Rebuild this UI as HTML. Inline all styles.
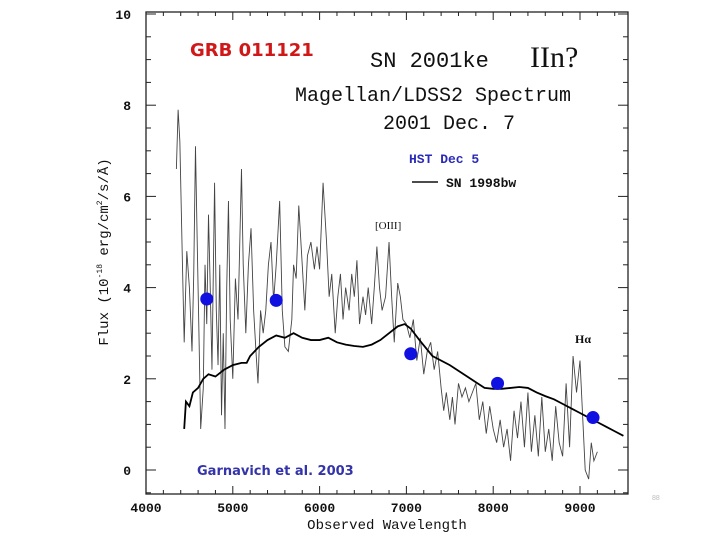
<!DOCTYPE html>
<html><head><meta charset="utf-8"><style>
body{margin:0;background:#fff;width:720px;height:540px;overflow:hidden}
svg{display:block}
.mono{font-family:"Liberation Mono",monospace}
</style></head><body>
<svg id="chart" width="720" height="540" xmlns="http://www.w3.org/2000/svg">
<rect x="0" y="0" width="720" height="540" fill="#fff"/>
<g id="axes"></g>
<g id="series"></g>
<text x="190" y="56" font-family="'Comic Sans MS','DejaVu Sans',sans-serif" font-weight="bold" font-size="18" fill="#d01818">GRB 011121</text>
<text x="370" y="67" class="mono" font-size="22" fill="#111">SN 2001ke</text>
<text x="530" y="67" font-family="'Liberation Serif',serif" font-size="30" fill="#111">IIn?</text>
<text x="433" y="101" text-anchor="middle" class="mono" font-size="20" fill="#111">Magellan/LDSS2 Spectrum</text>
<text x="449" y="129" text-anchor="middle" class="mono" font-size="20" fill="#111">2001 Dec. 7</text>
<text x="409" y="163" class="mono" font-weight="bold" font-size="13" fill="#2a2ab8">HST Dec 5</text>
<line x1="412" y1="182" x2="438" y2="182" stroke="#111" stroke-width="1.5"/>
<text x="446" y="187" class="mono" font-weight="bold" font-size="13" fill="#111">SN 1998bw</text>
<text x="375" y="229" font-family="'Liberation Serif',serif" font-size="11" fill="#111">[OIII]</text>
<text x="575" y="343" font-family="'Liberation Serif',serif" font-weight="bold" font-size="12" fill="#111">Hα</text>
<text x="197" y="475" font-family="'DejaVu Sans',sans-serif" font-weight="bold" font-size="13" fill="#3333aa">Garnavich et al. 2003</text>
<text x="387" y="529" text-anchor="middle" class="mono" font-size="14" fill="#111">Observed Wavelength</text>
<text transform="translate(108,252) rotate(-90)" text-anchor="middle" class="mono" font-size="14" fill="#111">Flux (10<tspan font-size="8" dy="-6">-18</tspan><tspan dy="6"> erg/cm</tspan><tspan font-size="8" dy="-6">2</tspan><tspan dy="6">/s/Å)</tspan></text>
<text x="652" y="500" font-family="'Liberation Sans',sans-serif" font-size="7" fill="#bbb">88</text>
</svg>
<script>
const xTicks=[4000,5000,6000,7000,8000,9000];
const yTicks=[0,2,4,6,8,10];
const obsWave=[4350,4370,4390,4420,4440,4470,4500,4530,4550,4570,4590,4610,4630,4660,4680,4700,4720,4740,4760,4790,4810,4830,4850,4870,4890,4910,4930,4950,4970,5000,5030,5060,5100,5120,5150,5180,5210,5240,5270,5290,5320,5350,5380,5410,5440,5470,5500,5540,5570,5600,5640,5680,5700,5730,5760,5800,5830,5860,5900,5940,5970,6000,6040,6080,6110,6140,6180,6210,6240,6270,6300,6340,6370,6400,6430,6460,6500,6530,6560,6600,6630,6660,6690,6720,6760,6800,6830,6860,6900,6930,6960,7000,7040,7080,7120,7160,7200,7240,7280,7320,7360,7400,7430,7460,7500,7530,7560,7600,7640,7680,7720,7760,7800,7840,7880,7920,7960,8000,8040,8080,8120,8160,8200,8240,8280,8320,8360,8400,8440,8480,8520,8560,8600,8640,8680,8720,8760,8800,8840,8880,8920,8960,9000,9030,9060,9100,9130,9160,9200];
const obsFlux=[6.6,7.9,7.2,4.5,2.8,4.8,4.0,2.6,4.3,7.1,5.0,3.0,0.9,1.8,4.5,3.2,5.6,4.0,2.2,6.3,3.5,2.3,4.5,1.2,3.0,0.9,4.0,5.9,3.3,2.0,4.2,3.3,6.6,4.5,3.0,4.5,5.3,3.5,2.5,1.9,3.5,3.0,3.5,4.5,5.0,3.7,4.5,5.9,3.5,2.7,2.6,3.3,4.5,4.2,5.8,4.5,3.5,4.7,5.0,4.4,4.9,4.4,6.3,5.0,3.8,4.3,3.0,3.8,4.3,3.3,4.0,3.5,4.3,3.8,4.6,3.2,3.8,3.4,4.0,3.2,4.0,4.9,4.0,3.5,3.8,5.0,3.8,2.8,4.1,3.8,3.3,3.2,2.9,3.3,2.4,2.9,2.1,2.6,2.8,2.2,2.6,1.8,1.3,1.7,1.1,1.6,1.0,1.9,1.6,1.8,1.5,1.7,1.9,1.1,1.5,0.8,1.4,0.9,0.6,1.1,0.5,0.9,0.2,1.3,0.7,1.5,0.5,1.7,0.4,1.2,0.3,1.6,0.4,0.9,0.2,1.4,0.6,0.3,1.9,0.5,2.5,1.7,2.4,1.2,0.0,-0.2,0.6,0.2,0.4];
const tmplWave=[4440,4460,4500,4540,4600,4660,4720,4800,4900,5000,5100,5160,5200,5300,5400,5500,5600,5700,5800,5900,6000,6100,6200,6300,6400,6500,6600,6700,6800,6900,6980,7050,7150,7300,7500,7700,7900,8000,8100,8200,8300,8400,8500,8600,8700,8800,8900,9000,9100,9200,9300,9400,9500];
const tmplFlux=[0.9,1.5,1.4,1.7,1.8,2.0,2.1,2.05,2.2,2.3,2.35,2.35,2.5,2.7,2.85,2.95,2.9,3.0,2.9,2.85,2.85,2.9,2.8,2.75,2.72,2.7,2.75,2.85,3.0,3.15,3.2,3.1,2.85,2.5,2.3,2.05,1.8,1.78,1.78,1.8,1.82,1.8,1.7,1.62,1.55,1.45,1.35,1.25,1.15,1.05,0.95,0.85,0.75];
const hstWave=[4700,5500,7050,8050,9150];
const hstFlux=[3.75,3.72,2.55,1.9,1.15];

const NS='http://www.w3.org/2000/svg';
const L=146,R=628,T=12,B=494;
const xs=w=>L+(w-4000)*0.0868;
const ys=f=>470-f*45.6;
function mk(tag,attrs,parent){const e=document.createElementNS(NS,tag);for(const k in attrs)e.setAttribute(k,attrs[k]);parent.appendChild(e);return e;}
const ax=document.getElementById('axes'), sr=document.getElementById('series');
const frame=mk('rect',{x:L,y:T,width:R-L,height:B-T,fill:'none',stroke:'#222','stroke-width':1.3},ax);


for(let w=4000;w<=9500;w+=200){const x=xs(w);const major=(w%1000===0);const len=major?8:4;
 mk('line',{x1:x,y1:B,x2:x,y2:B-len,stroke:'#222'},ax);mk('line',{x1:x,y1:T,x2:x,y2:T+len,stroke:'#222'},ax);}
for(let f=-0.5;f<=10;f+=0.5){const y=ys(f);const major=(Math.abs(f%2)<1e-6);const len=major?10:5;
 mk('line',{x1:L,y1:y,x2:L+len,y2:y,stroke:'#222'},ax);mk('line',{x1:R,y1:y,x2:R-len,y2:y,stroke:'#222'},ax);}
xTicks.forEach(v=>{const t=mk('text',{x:xs(v),y:512,'text-anchor':'middle','font-family':'Liberation Mono,monospace','font-size':13,'font-weight':'bold',fill:'#111'},ax);t.textContent=v;
 
 });
yTicks.forEach(v=>{const t=mk('text',{x:131,y:ys(v)+5,'text-anchor':'end','font-family':'Liberation Mono,monospace','font-size':13,'font-weight':'bold',fill:'#111'},ax);t.textContent=v;
 
 });
const obs=mk('polyline',{points:obsWave.map((w,i)=>xs(w)+','+ys(obsFlux[i])).join(' '),fill:'none',stroke:'#444','stroke-width':0.9},sr);


const tm=mk('polyline',{points:tmplWave.map((w,i)=>xs(w)+','+ys(tmplFlux[i])).join(' '),fill:'none',stroke:'#000','stroke-width':1.8},sr);


hstWave.forEach((w,i)=>{const c=mk('circle',{cx:xs(w),cy:ys(hstFlux[i]),r:6.5,fill:'#1010e0'},sr);
 
 });
</script>
</body></html>
